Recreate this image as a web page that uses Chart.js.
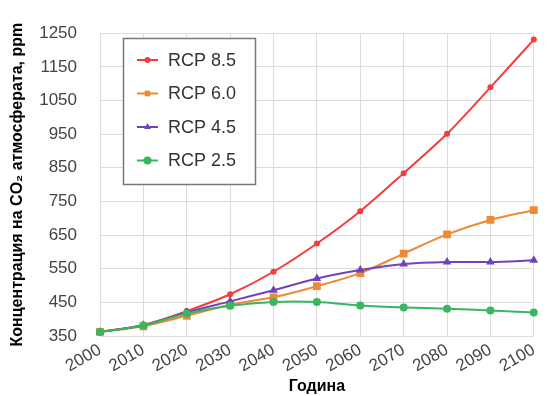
<!DOCTYPE html>
<html>
<head>
<meta charset="utf-8">
<title>RCP</title>
<script src="https://cdn.jsdelivr.net/npm/chart.js@4.4.1/dist/chart.umd.min.js"></script>
<style>
    body { margin: 0; background: #fff; }
    #wrap { width: 548px; height: 396px; }
</style>
</head>
<body>
<div id="wrap"><canvas id="myChart" width="548" height="396"></canvas></div>
<script>
"use strict";

// DATI
const years = ["2000", "2010", "2020", "2030", "2040", "2050", "2060", "2070", "2080", "2090", "2100"];
const rcp85 = [362, 383, 424, 474, 541, 625, 721, 834, 951, 1089, 1231];
const rcp60 = [362, 379, 410, 443, 465, 498, 537, 595, 652, 695, 724];
const rcp45 = [362, 382, 420, 453, 486, 521, 546, 564, 570, 570, 575];
const rcp26 = [362, 381, 417, 440, 451, 451, 441, 435, 431, 426, 420];
const seriesNames = ["RCP 8.5", "RCP 6.0", "RCP 4.5", "RCP 2.5"];
const yMin = 350, yMax = 1250, yStep = 100;

const colors = ["#f43c3c", "#ee8a33", "#7442b8", "#38b760"];
const pointStyles = ["circle", "rect", "triangle", "circle"];
const pointSizes = [3, 5.5, 5, 4];
const drawOrder = [3, 2, 1, 0];

const FONT = "'Liberation Sans', Arial, sans-serif";

function makeDataset(i, values) {
    return {
        label: seriesNames[i],
        data: values,
        borderColor: colors[i],
        backgroundColor: colors[i],
        pointStyle: pointStyles[i],
        pointRadius: pointSizes[i],
        pointBorderWidth: 0,
        borderWidth: 2,
        tension: 0.3,
        order: drawOrder[i]
    };
}

// LEGENDA DENTRO IL GRAFICO
const boxLegend = {
    id: "boxLegend",
    afterDraw: function (chart) {
        let ctx = chart.ctx;
        ctx.save();
        ctx.strokeStyle = "#777";
        ctx.lineWidth = 1.5;
        ctx.fillStyle = "#fff";
        ctx.fillRect(123, 38, 132, 146);
        ctx.strokeRect(123.5, 38.5, 132, 146);
        let sets = chart.data.datasets;
        for (let i = 0; i < sets.length; i++) {
            let y = 60 + i * 33.5;
            ctx.strokeStyle = sets[i].borderColor;
            ctx.lineWidth = 2;
            ctx.beginPath();
            ctx.moveTo(137, y);
            ctx.lineTo(158, y);
            ctx.stroke();
            ctx.fillStyle = sets[i].borderColor;
            Chart.helpers.drawPoint(ctx, {
                pointStyle: sets[i].pointStyle,
                radius: Math.min(sets[i].pointRadius, 4),
                borderWidth: 0
            }, 147.5, y);
            ctx.fillStyle = "#333";
            ctx.font = "18px " + FONT;
            ctx.textBaseline = "middle";
            ctx.textAlign = "left";
            ctx.fillText(sets[i].label, 168, y + 1);
        }
        ctx.restore();
    }
};

const whiteBg = {
    id: "whiteBg",
    beforeDraw: function (chart) {
        let ctx = chart.ctx;
        ctx.save();
        ctx.fillStyle = "#fff";
        ctx.fillRect(0, 0, chart.width, chart.height);
        ctx.restore();
    }
};

let chart = new Chart(document.getElementById("myChart"), {
    type: "line",
    data: {
        labels: years,
        datasets: [
            makeDataset(0, rcp85),
            makeDataset(1, rcp60),
            makeDataset(2, rcp45),
            makeDataset(3, rcp26)
        ]
    },
    options: {
        responsive: false,
        animation: false,
        devicePixelRatio: 1,
        layout: { padding: { top: 20, right: 7, left: 0, bottom: 0 } },
        plugins: {
            legend: { display: false },
            tooltip: { enabled: false }
        },
        scales: {
            x: {
                grid: { color: "#dcdcdc", drawTicks: false },
                border: { color: "#dcdcdc" },
                ticks: {
                    color: "#444",
                    font: { size: 17, family: FONT },
                    autoSkip: false,
                    minRotation: 30,
                    maxRotation: 30,
                    padding: 4
                },
                title: {
                    display: true,
                    text: "Година",
                    color: "#000",
                    font: { size: 16, weight: "bold", family: FONT },
                    padding: { top: 0, bottom: 0 }
                },
                afterFit: function (s) { s.height = 60; }
            },
            y: {
                min: yMin,
                max: yMax,
                grid: { color: "#dcdcdc", drawTicks: false },
                border: { color: "#dcdcdc" },
                ticks: {
                    stepSize: yStep,
                    color: "#444",
                    font: { size: 17, family: FONT },
                    padding: 23,
                    callback: function (v) { return String(v); }
                },
                title: {
                    display: true,
                    text: "Концентрация на CO₂ атмосферата, ppm",
                    color: "#000",
                    font: { size: 16, weight: "bold", family: FONT },
                    padding: { top: 8, bottom: 0 }
                },
                afterFit: function (s) { s.width = 100; }
            }
        }
    },
    plugins: [whiteBg, boxLegend]
});
</script>
</body>
</html>
